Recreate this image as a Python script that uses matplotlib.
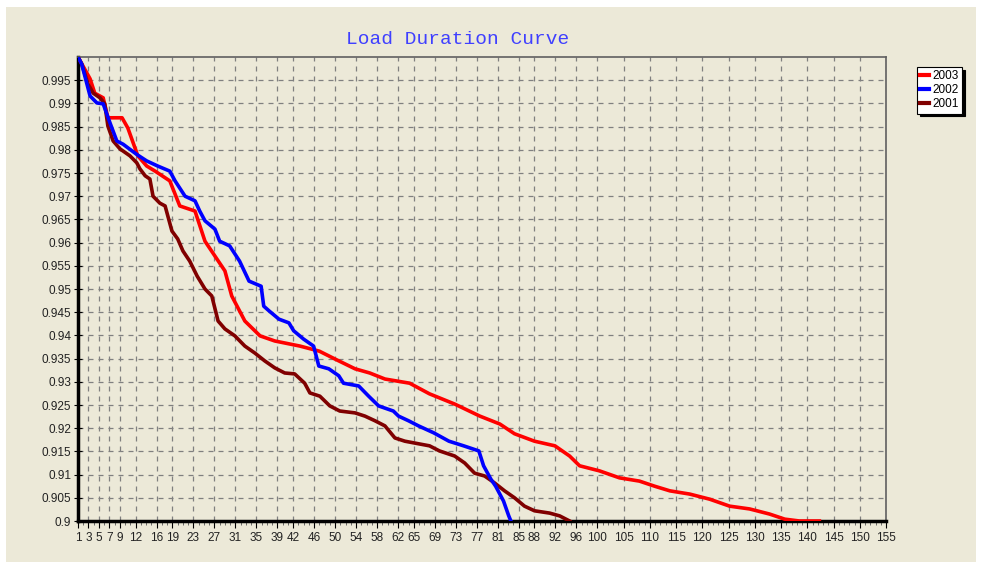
import matplotlib.pyplot as plt
from matplotlib.patches import Rectangle
from matplotlib.ticker import MultipleLocator

# values (x = hours rank, y = per-unit load)
x_2003 = [1, 3.3, 4.2, 5.8, 6.7, 9.4, 10.5, 12.4, 14.1, 15.7, 18.5, 20.4, 23.3, 25.2, 27.1,
          29, 30.3, 32.8, 35.7, 38.5, 43.3, 47, 50, 53.8, 56.6, 59.5, 64.2, 68, 72.8, 77.6,
          81.4, 84.2, 88, 91.9, 94.7, 96.6, 100.4, 104.2, 108, 110.9, 113.8, 117.6, 121.4,
          125.2, 129, 132.8, 135.7, 138.5, 142.3]
y_2003 = [1.0, 0.9953, 0.9922, 0.9912, 0.9869, 0.9869, 0.9847, 0.9787, 0.9765, 0.9754,
          0.9733, 0.9679, 0.9668, 0.9603, 0.9571, 0.9539, 0.9485, 0.9431, 0.9399, 0.9388,
          0.9377, 0.9366, 0.9349, 0.9328, 0.9319, 0.9306, 0.9297, 0.9274, 0.9252, 0.9226,
          0.9209, 0.9188, 0.9172, 0.9162, 0.914, 0.9119, 0.9108, 0.9093, 0.9086, 0.9075,
          0.9065, 0.9058, 0.9047, 0.9032, 0.9026, 0.9015, 0.9004, 0.9, 0.9]

x_2002 = [1, 1.7, 3.3, 4.6, 5.8, 7.1, 8.4, 9.6, 12.2, 14.1, 16.2, 18.5, 19.5, 21.4, 23.3,
          24.2, 25.2, 27.1, 28, 29.9, 31.8, 33.6, 35.9, 36.4, 37.4, 39.3, 41.2, 42.1, 44,
          45.9, 46.9, 48.8, 50.7, 51.6, 54.5, 56.4, 58.3, 61.1, 62.1, 64, 65.9, 68.8, 71.7,
          74.5, 77.4, 78.3, 79.7, 80.6, 82.1, 83.1, 83.5]
y_2002 = [1.0, 0.9985, 0.9916, 0.9901, 0.9899, 0.9858, 0.9819, 0.9812, 0.979, 0.9776,
          0.9765, 0.9754, 0.9733, 0.97, 0.969, 0.9668, 0.9647, 0.9629, 0.9603, 0.9593,
          0.956, 0.9517, 0.9506, 0.9463, 0.9453, 0.9435, 0.9427, 0.941, 0.9392, 0.9377,
          0.9334, 0.9328, 0.9313, 0.9297, 0.9291, 0.9269, 0.9248, 0.9237, 0.9226, 0.9216,
          0.9205, 0.919, 0.9172, 0.9162, 0.9151, 0.9119, 0.909, 0.9075, 0.9043, 0.9011, 0.9]

x_2001 = [1, 1.7, 2.9, 3.9, 5.2, 6.1, 6.7, 7.7, 9, 10.9, 12.2, 12.8, 13.8, 14.7, 15.3, 16.6,
          17.6, 18.9, 20, 21, 22.3, 23.7, 25.2, 26.5, 27.7, 29, 30.9, 32.8, 34.7, 36.6, 38.5,
          40.4, 42.3, 44.2, 45.2, 47.1, 49, 50.9, 53.8, 55.7, 57.6, 59.5, 61.4, 63.3, 66.1,
          68, 69.9, 72.8, 74.7, 76.6, 78.5, 80.4, 82.3, 84.2, 86.1, 88, 90.9, 92.8, 94.7]
y_2001 = [1.0, 0.9985, 0.9942, 0.9922, 0.9912, 0.9899, 0.9851, 0.9819, 0.9802, 0.9787,
          0.9772, 0.9759, 0.9744, 0.9737, 0.97, 0.9685, 0.9679, 0.9625, 0.9608, 0.9582,
          0.956, 0.9528, 0.95, 0.9485, 0.9431, 0.9414, 0.9399, 0.9377, 0.9362, 0.9345,
          0.933, 0.9319, 0.9317, 0.9297, 0.9276, 0.9269, 0.9248, 0.9237, 0.9233, 0.9226,
          0.9216, 0.9205, 0.9179, 0.9172, 0.9166, 0.9162, 0.9151, 0.914, 0.9125, 0.9103,
          0.9097, 0.9082, 0.9065, 0.905, 0.9032, 0.9022, 0.9017, 0.9011, 0.9]

x_ticks = [1, 3, 5, 7, 9, 12, 16, 19, 23, 27, 31, 35, 39, 42, 46, 50, 54, 58, 62, 65, 69,
           73, 77, 81, 85, 88, 92, 96, 100, 105, 110, 115, 120, 125, 130, 135, 140, 145,
           150, 155]
y_ticks = [0.9 + 0.005 * i for i in range(20)]
y_labels = ['0.9', '0.905', '0.91', '0.915', '0.92', '0.925', '0.93', '0.935', '0.94',
            '0.945', '0.95', '0.955', '0.96', '0.965', '0.97', '0.975', '0.98', '0.985',
            '0.99', '0.995']

bg = '#ECE9D8'
W, H = 981, 567
fig = plt.figure(figsize=(W / 100, H / 100), dpi=100, facecolor='white')
fig.patches.append(Rectangle((6 / W, 5 / H), 970 / W, 555 / H, transform=fig.transFigure,
                             facecolor=bg, edgecolor='none', zorder=-1))

ax = fig.add_axes([78 / W, (H - 521) / H, (886 - 78) / W, (521 - 57) / H])
ax.set_facecolor(bg)

ax.plot(x_2003, y_2003, color='#FF0000', lw=2.6, label='2003', zorder=3)
ax.plot(x_2002, y_2002, color='#0000FF', lw=2.6, label='2002', zorder=4)
ax.plot(x_2001, y_2001, color='#800000', lw=2.6, label='2001', zorder=3)

ax.set_xlim(1, 155)
ax.set_ylim(0.9, 1.0)
ax.set_xticks(x_ticks)
ax.xaxis.set_minor_locator(MultipleLocator(1))
ax.set_yticks(y_ticks)
ax.set_yticklabels(y_labels)

ax.tick_params(axis='x', which='major', direction='out', length=5, width=0.8,
               labelsize=8.5, pad=3)
ax.tick_params(axis='x', which='minor', direction='out', length=3, width=0.6, color='#555555')
ax.tick_params(axis='y', direction='inout', length=6, width=0.8, labelsize=8.5, pad=2)
for lab in ax.get_xticklabels() + ax.get_yticklabels():
    lab.set_family('Liberation Sans')
    lab.set_color('#222222')

ax.grid(True, which='major', color='#808080', linestyle=(0, (4, 4)), linewidth=0.9)
ax.set_axisbelow(True)

for s in ('left', 'bottom'):
    ax.spines[s].set_linewidth(2.5)
    ax.spines[s].set_color('black')
for s in ('top', 'right'):
    ax.spines[s].set_linewidth(1.2)
    ax.spines[s].set_color('#606060')

fig.text(458 / W, 1 - 40 / H, 'Load Duration Curve', color='#4040FF', ha='center',
         va='center', fontsize=14, family='Liberation Mono')

leg = fig.legend(loc='upper left', bbox_to_anchor=(911 / W, 1 - 61 / H), frameon=True,
                 fancybox=False, framealpha=1, edgecolor='black', borderpad=0.3,
                 handlelength=0.7, handletextpad=0.3, labelspacing=0.15,
                 prop={'family': 'Liberation Sans', 'size': 8.5},
                 shadow={'color': 'black', 'alpha': 1})
leg.get_frame().set_linewidth(0.8)
for h in leg.legend_handles:
    h.set_linewidth(3)

fig.savefig('out.png', dpi=100, facecolor='white')
